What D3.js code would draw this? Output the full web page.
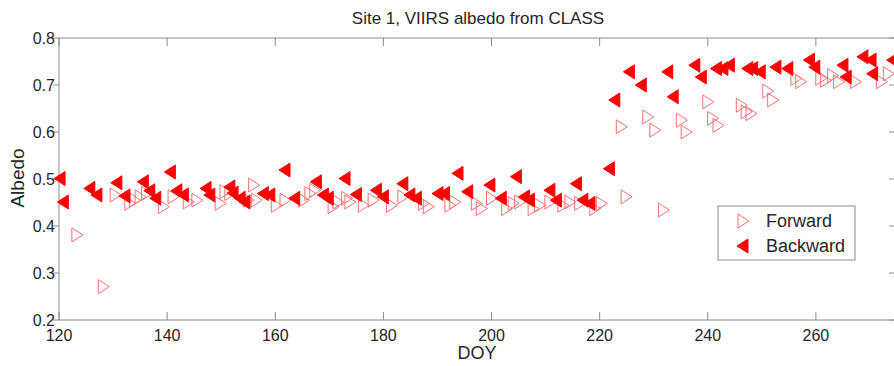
<!DOCTYPE html>
<html>
<head>
<meta charset="utf-8">
<script src="https://cdn.jsdelivr.net/npm/d3@7"></script>
<style>
  html, body { margin: 0; padding: 0; background: #fff; }
  svg { display: block; font-family: "Liberation Sans", Arial, sans-serif; }
</style>
</head>
<body>
<svg id="chart" width="894" height="366"></svg>
<script>
// Forward retrievals: day of year and albedo
const forwardDoy = [123.3, 128.2, 130.4, 133.1, 134, 135, 136.2, 139.3, 141.1, 143.9, 145.5, 149.8,
  150.7, 151.6, 155, 156, 156.5, 160.2, 161.8, 165.2, 166.4, 167.3, 170.7, 171.6, 173.2, 173.8,
  176.3, 178.1, 181.5, 183.6, 187.4, 188.3, 192.3, 193.2, 197.2, 198.1, 200, 202.8, 204, 205.2,
  207.7, 208.9, 210.8, 213.2, 214.5, 216.3, 219.1, 220.3, 224, 224.9, 228.9, 230.2, 231.8,
  235.1, 236, 240, 240.9, 241.9, 246.2, 247.1, 248, 251.1, 252, 256.3, 257.2, 260.9, 261.8,
  263.1, 264.2, 267.3, 272.1, 273.4];
const forwardAlbedo = [0.381, 0.271, 0.466, 0.448, 0.455, 0.462, 0.469, 0.441, 0.462, 0.451, 0.455, 0.448,
  0.473, 0.469, 0.455, 0.487, 0.455, 0.444, 0.455, 0.455, 0.469, 0.476, 0.441, 0.451, 0.459, 0.451,
  0.444, 0.455, 0.444, 0.462, 0.448, 0.441, 0.444, 0.451, 0.448, 0.437, 0.459, 0.437, 0.448, 0.451,
  0.437, 0.444, 0.451, 0.444, 0.451, 0.448, 0.437, 0.448, 0.611, 0.462, 0.632, 0.604, 0.434,
  0.625, 0.600, 0.664, 0.629, 0.614, 0.657, 0.643, 0.639, 0.687, 0.668, 0.714, 0.707, 0.714, 0.710,
  0.720, 0.707, 0.707, 0.707, 0.724];

// Backward retrievals
const backwardDoy = [120.2, 120.8, 125.7, 127, 130.7, 132.2, 135.6, 136.8, 137.9, 140.6, 141.8, 143,
  147.2, 147.9, 151.6, 152.2, 153.5, 154.4, 157.8, 159, 161.8, 163.6, 167.6, 168.9, 169.8, 172.9,
  175, 178.7, 180, 183.6, 184.9, 186.1, 190.1, 191.3, 193.8, 195.6, 199.7, 201.8, 204.6, 206.1,
  207, 210.8, 212, 215.7, 216.9, 218.2, 221.8, 222.8, 225.5, 227.7, 232.6, 233.6, 237.6, 238.8,
  241.6, 242.8, 244, 247.4, 248.3, 249.7, 252.6, 254.8, 258.8, 259.8, 265, 265.6, 268.7, 270.2,
  270.5, 274.2];
const backwardAlbedo = [0.501, 0.451, 0.480, 0.466, 0.492, 0.464, 0.494, 0.475, 0.459, 0.515, 0.475, 0.466,
  0.480, 0.466, 0.483, 0.470, 0.459, 0.451, 0.469, 0.466, 0.519, 0.459, 0.494, 0.466, 0.459, 0.501,
  0.467, 0.476, 0.462, 0.490, 0.466, 0.459, 0.469, 0.469, 0.512, 0.473, 0.487, 0.459, 0.505, 0.462,
  0.455, 0.476, 0.455, 0.490, 0.455, 0.448, 0.522, 0.668, 0.728, 0.700, 0.728, 0.675, 0.742, 0.717,
  0.735, 0.735, 0.742, 0.735, 0.735, 0.728, 0.738, 0.735, 0.753, 0.738, 0.742, 0.717, 0.760, 0.753,
  0.724, 0.753];

const xTicks = [120, 140, 160, 180, 200, 220, 240, 260];
const yTicks = [0.2, 0.3, 0.4, 0.5, 0.6, 0.7, 0.8];
const seriesNames = ['Forward', 'Backward'];

const svg = d3.select('#chart');
const margin = { top: 38, right: -3, bottom: 46, left: 59 };
const width = 894, height = 366;
const axisColor = '#8c8c8c';
const textColor = '#262626';

const x = d3.scaleLinear().domain([120, 275]).range([margin.left, width - margin.right]);
const y = d3.scaleLinear().domain([0.2, 0.8]).range([height - margin.bottom, margin.top]);

// Triangle paths (right-pointing for forward, left-pointing for backward)
const rightTri = 'M-5,-7 L6,0 L-5,7 Z';
const leftTri = 'M5,-7 L-6,0 L5,7 Z';

// Box and ticks
const x0 = x.range()[0], x1 = x.range()[1], y0 = y.range()[0], y1 = y.range()[1];
svg.append('rect')
  .attr('x', x0).attr('y', y1).attr('width', x1 - x0).attr('height', y0 - y1)
  .attr('fill', 'none').attr('stroke', axisColor).attr('stroke-width', 1);

const xt = svg.append('g');
xTicks.forEach(t => {
  xt.append('line').attr('x1', x(t)).attr('x2', x(t)).attr('y1', y0).attr('y2', y0 - 8)
    .attr('stroke', axisColor);
  xt.append('line').attr('x1', x(t)).attr('x2', x(t)).attr('y1', y1).attr('y2', y1 + 8)
    .attr('stroke', axisColor);
  xt.append('text').attr('x', x(t)).attr('y', y0 + 21).attr('text-anchor', 'middle')
    .attr('font-size', 16).attr('fill', textColor).text(t);
});

const yt = svg.append('g');
yTicks.forEach(t => {
  yt.append('line').attr('x1', x0 - 6).attr('x2', x0).attr('y1', y(t)).attr('y2', y(t))
    .attr('stroke', axisColor);
  yt.append('line').attr('x1', x1 - 8).attr('x2', x1).attr('y1', y(t)).attr('y2', y(t))
    .attr('stroke', axisColor);
  yt.append('text').attr('x', x0 - 4).attr('y', y(t) + 6).attr('text-anchor', 'end')
    .attr('font-size', 16).attr('fill', textColor).text(t.toFixed(1));
});

// Titles
svg.append('text').attr('x', (x0 + x1) / 2).attr('y', 24).attr('text-anchor', 'middle')
  .attr('font-size', 17).attr('fill', textColor).text('Site 1, VIIRS albedo from CLASS');
svg.append('text').attr('x', (x0 + x1) / 2 - 1).attr('y', 359).attr('text-anchor', 'middle')
  .attr('font-size', 18).attr('fill', textColor).text('DOY');
svg.append('text').attr('transform', `translate(24, ${(y0 + y1) / 2 - 1}) rotate(-90)`)
  .attr('text-anchor', 'middle').attr('font-size', 19).attr('fill', textColor).text('Albedo');

// Markers
const forward = forwardDoy.map((d, i) => ({ doy: d, v: forwardAlbedo[i] }));
const backward = backwardDoy.map((d, i) => ({ doy: d, v: backwardAlbedo[i] }));

svg.append('g').selectAll('path').data(forward).enter().append('path')
  .attr('d', rightTri)
  .attr('transform', d => `translate(${x(d.doy)},${y(d.v)})`)
  .attr('fill', 'none').attr('stroke', '#ff6f6f').attr('stroke-width', 1);

svg.append('g').selectAll('path').data(backward).enter().append('path')
  .attr('d', leftTri)
  .attr('transform', d => `translate(${x(d.doy)},${y(d.v)})`)
  .attr('fill', '#ff0000').attr('stroke', '#ff0000').attr('stroke-width', 1);

// Legend
const lg = svg.append('g').attr('transform', 'translate(718,206)');
lg.append('rect').attr('width', 137).attr('height', 54)
  .attr('fill', '#fff').attr('stroke', axisColor);
seriesNames.forEach((name, i) => {
  const cy = 15 + i * 25;
  lg.append('path').attr('d', i === 0 ? rightTri : leftTri)
    .attr('transform', `translate(25,${cy})`)
    .attr('fill', i === 0 ? 'none' : '#ff0000')
    .attr('stroke', i === 0 ? '#ff6f6f' : '#ff0000');
  lg.append('text').attr('x', 48).attr('y', cy + 6).attr('font-size', 18)
    .attr('fill', textColor).text(name);
});
</script>
</body>
</html>
